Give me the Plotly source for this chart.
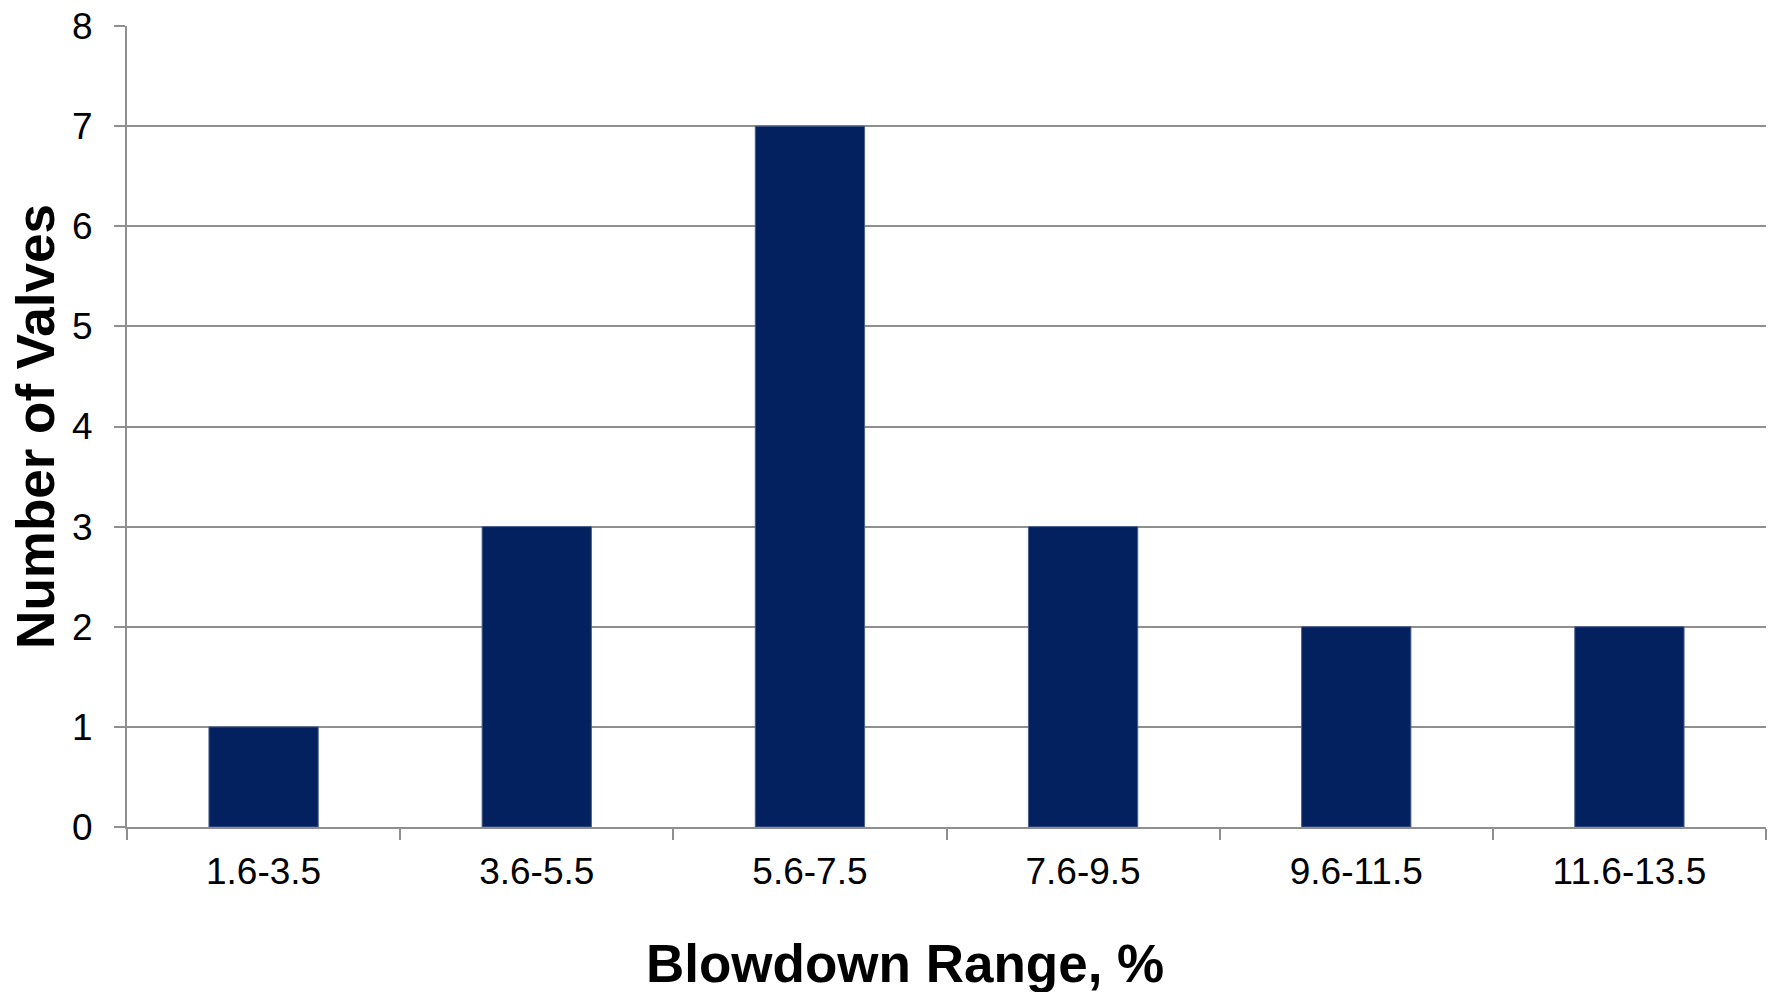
import plotly.graph_objects as go

categories = ["1.6-3.5", "3.6-5.5", "5.6-7.5", "7.6-9.5", "9.6-11.5", "11.6-13.5"]
valves = [1, 3, 7, 3, 2, 2]
y_ticks = [0, 1, 2, 3, 4, 5, 6, 7, 8]

FONT = "Liberation Sans, Arial, sans-serif"
GRID = "#8f8f8f"

fig = go.Figure(
    go.Bar(
        x=categories,
        y=valves,
        marker=dict(color="#03215E", line=dict(color="#4a5f8f", width=1)),
    )
)

fig.update_layout(
    width=1772,
    height=992,
    margin=dict(l=127, r=6, t=26, b=165),
    paper_bgcolor="white",
    plot_bgcolor="white",
    bargap=0.6,
    showlegend=False,
    font=dict(family=FONT, color="black"),
    annotations=[
        dict(
            text="<b>Blowdown Range, %</b>",
            xref="paper", yref="paper",
            x=0.4747, y=-0.170,
            xanchor="center", yanchor="middle",
            showarrow=False,
            font=dict(size=53, family=FONT, color="black"),
        )
    ],
)

fig.update_xaxes(
    type="category",
    showline=True,
    linecolor=GRID,
    linewidth=2,
    ticks="outside",
    tickson="boundaries",
    ticklen=11,
    tickwidth=2,
    tickcolor=GRID,
    tickfont=dict(size=37, family=FONT, color="black"),
    ticklabelstandoff=11,
    showgrid=False,
)

fig.update_yaxes(
    range=[0, 8],
    tickvals=y_ticks,
    showline=True,
    linecolor=GRID,
    linewidth=2,
    ticks="outside",
    ticklen=11,
    tickwidth=2,
    tickcolor=GRID,
    showgrid=True,
    gridcolor=GRID,
    gridwidth=2,
    zeroline=False,
    tickfont=dict(size=37, family=FONT, color="black"),
    ticklabelstandoff=14,
    title=dict(
        text="<b>Number of Valves</b>",
        font=dict(size=53, family=FONT, color="black"),
        standoff=0,
    ),
)

fig.write_html("out.html")
